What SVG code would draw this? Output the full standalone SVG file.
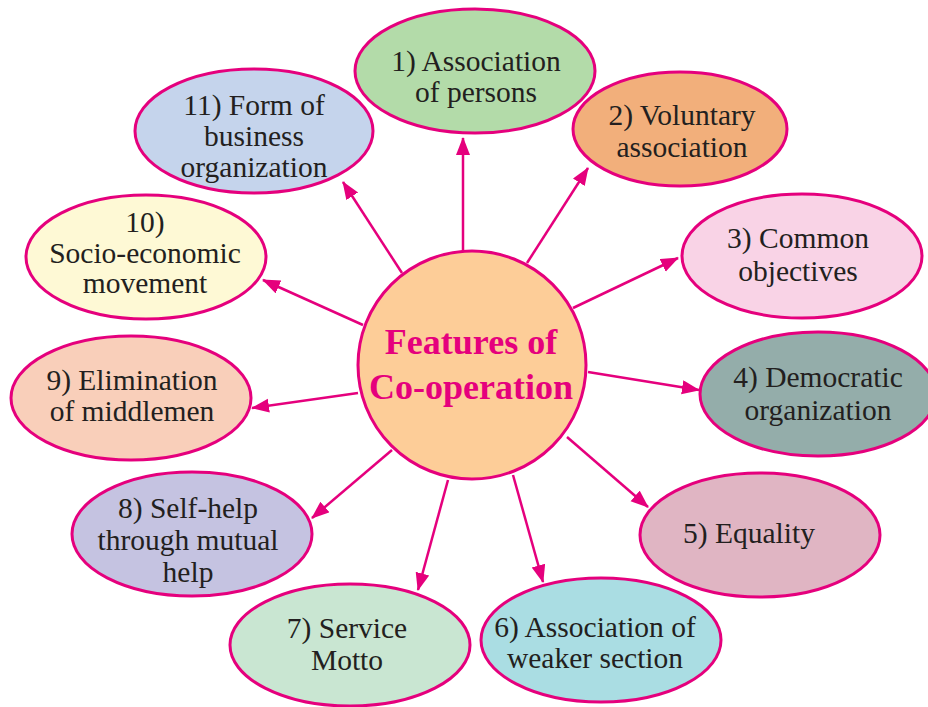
<svg xmlns="http://www.w3.org/2000/svg" width="928" height="707" viewBox="0 0 928 707">
<style>
.n{stroke:#E5007D;stroke-width:3}
.t{font-family:'Liberation Serif','DejaVu Serif',serif;font-size:29.5px;fill:#231F20;text-anchor:middle}
.c{stroke:#E5007D;stroke-width:2.5;fill:none}
.h{font-family:'Liberation Serif','DejaVu Serif',serif;font-size:36px;font-weight:bold;fill:#E5007D;text-anchor:middle}
</style>
<defs>
<marker id="ah" markerUnits="userSpaceOnUse" markerWidth="20" markerHeight="16" refX="17" refY="7" orient="auto">
<path d="M0,0 L18,7 L0,14 z" fill="#E5007D"/>
</marker>
</defs>
<rect width="928" height="707" fill="#fff"/>
<g id="connectors">
<line class="c" x1="463" y1="252" x2="463" y2="138" marker-end="url(#ah)"/>
<line class="c" x1="527" y1="263" x2="588" y2="168" marker-end="url(#ah)"/>
<line class="c" x1="573" y1="308" x2="678" y2="258" marker-end="url(#ah)"/>
<line class="c" x1="588" y1="372" x2="699" y2="390" marker-end="url(#ah)"/>
<line class="c" x1="567" y1="437" x2="648" y2="507" marker-end="url(#ah)"/>
<line class="c" x1="513" y1="475" x2="543" y2="582" marker-end="url(#ah)"/>
<line class="c" x1="448" y1="480" x2="418" y2="590" marker-end="url(#ah)"/>
<line class="c" x1="392" y1="450" x2="312" y2="518" marker-end="url(#ah)"/>
<line class="c" x1="358" y1="393" x2="252" y2="408" marker-end="url(#ah)"/>
<line class="c" x1="363" y1="325" x2="263" y2="280" marker-end="url(#ah)"/>
<line class="c" x1="402" y1="273" x2="343" y2="182" marker-end="url(#ah)"/>
</g>
<g id="center">
<circle class="n" cx="472" cy="365" r="114" fill="#FDCD98"/>
<text class="h" x="471" y="354">Features of</text>
<text class="h" x="471" y="399">Co-operation</text>
</g>
<g id="n1">
<ellipse class="n" cx="475" cy="71" rx="120" ry="62" fill="#B3DBA9"/>
<text class="t" x="476" y="71">1) Association</text>
<text class="t" x="476" y="102">of persons</text>
</g>
<g id="n2">
<ellipse class="n" cx="680" cy="129" rx="107" ry="57" fill="#F2AF7B"/>
<text class="t" x="682" y="125">2) Voluntary</text>
<text class="t" x="682" y="157">association</text>
</g>
<g id="n3">
<ellipse class="n" cx="802" cy="256" rx="120" ry="62" fill="#F9D3E6"/>
<text class="t" x="798" y="248">3) Common</text>
<text class="t" x="798" y="281">objectives</text>
</g>
<g id="n4">
<ellipse class="n" cx="818" cy="394" rx="118" ry="62" fill="#94ADAA"/>
<text class="t" x="818" y="387">4) Democratic</text>
<text class="t" x="818" y="420">organization</text>
</g>
<g id="n5">
<ellipse class="n" cx="760" cy="535" rx="120" ry="62" fill="#E0B5C3"/>
<text class="t" x="749" y="543">5) Equality</text>
</g>
<g id="n6">
<ellipse class="n" cx="601" cy="640" rx="120" ry="62" fill="#AADDE3"/>
<text class="t" x="595" y="637">6) Association of</text>
<text class="t" x="595" y="668">weaker section</text>
</g>
<g id="n7">
<ellipse class="n" cx="350" cy="645" rx="120" ry="61" fill="#C9E6D2"/>
<text class="t" x="347" y="638">7) Service</text>
<text class="t" x="347" y="670">Motto</text>
</g>
<g id="n8">
<ellipse class="n" cx="192" cy="534" rx="120" ry="62" fill="#C5C3E1"/>
<text class="t" x="188" y="518">8) Self-help</text>
<text class="t" x="188" y="550">through mutual</text>
<text class="t" x="188" y="582">help</text>
</g>
<g id="n9">
<ellipse class="n" cx="131" cy="398" rx="120" ry="62" fill="#F9CFBA"/>
<text class="t" x="132" y="390">9) Elimination</text>
<text class="t" x="132" y="421">of middlemen</text>
</g>
<g id="n10">
<ellipse class="n" cx="146" cy="257" rx="120" ry="62" fill="#FEF9D5"/>
<text class="t" x="145" y="232">10)</text>
<text class="t" x="145" y="263">Socio-economic</text>
<text class="t" x="145" y="293">movement</text>
</g>
<g id="n11">
<ellipse class="n" cx="254" cy="131" rx="119" ry="62" fill="#C5D4EC"/>
<text class="t" x="254" y="115">11) Form of</text>
<text class="t" x="254" y="146">business</text>
<text class="t" x="254" y="177">organization</text>
</g>
</svg>
